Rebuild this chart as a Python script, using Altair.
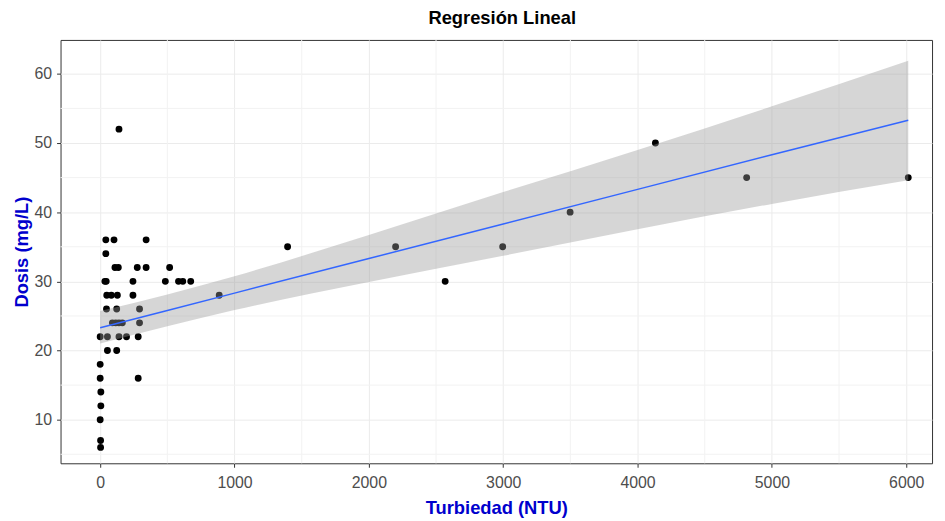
import altair as alt
import pandas as pd

# Observed points: turbidity (NTU) and dose (mg/L)
turbiedad = [140, 42, 103, 342, 42, 110, 135, 276, 342, 517,
             35, 45, 244, 485, 583, 615, 674,
             49, 83, 128, 244, 47, 123, 293,
             91, 116, 140, 165, 293,
             0, 54, 140, 196, 283, 54, 123,
             0, 0, 283, 5, 5, 0, 3, 3,
             886, 1395, 2199, 2568, 2996, 3498, 4133, 4812, 6015]
dosis = [52, 36, 36, 36, 34, 32, 32, 32, 32, 32,
         30, 30, 30, 30, 30, 30, 30,
         28, 28, 28, 28, 26, 26, 26,
         24, 24, 24, 24, 24,
         22, 22, 22, 22, 22, 20, 20,
         18, 16, 16, 14, 12, 10, 7, 6,
         28, 35, 35, 30, 35, 40, 50, 45, 45]

# Fitted line and 95% confidence band
fit_x = [0, 500, 1000, 2000, 3000, 4000, 5000, 6015]
fit_y = [23.3, 25.8, 28.3, 33.3, 38.3, 43.3, 48.3, 53.3]
band_lo = [21.0, 23.5, 25.85, 29.9, 33.7, 37.55, 41.2, 44.6]
band_hi = [25.7, 28.1, 30.75, 36.7, 42.9, 49.0, 55.3, 61.9]

x_ticks = [0, 1000, 2000, 3000, 4000, 5000, 6000]
y_ticks = [10, 20, 30, 40, 50, 60]
x_minor = [500, 1500, 2500, 3500, 4500, 5500]
y_minor = [5, 15, 25, 35, 45, 55]

pts = pd.DataFrame({"x": turbiedad, "y": dosis})
band = pd.DataFrame({"x": fit_x, "fit": fit_y, "lo": band_lo, "hi": band_hi})

xscale = alt.Scale(domain=[-295, 6192], nice=False, zero=False)
yscale = alt.Scale(domain=[3.7, 64.9], nice=False, zero=False)

blue = "#0000CD"
font = "Liberation Sans"
xaxis = alt.Axis(values=x_ticks, format="d", title="Turbiedad (NTU)", grid=True,
                 gridColor="#EBEBEB", gridWidth=1, domain=False, tickColor="#333333",
                 tickSize=4, labelFont=font, labelFontSize=16, labelColor="#4D4D4D",
                 labelPadding=7, titleFont=font, titleFontSize=18.5, titleFontWeight="bold",
                 titleColor=blue, titlePadding=9)
yaxis = alt.Axis(values=y_ticks, title="Dosis (mg/L)", grid=True, gridColor="#EBEBEB",
                 gridWidth=1, domain=False, tickColor="#333333", tickSize=4,
                 labelFont=font, labelFontSize=16, labelColor="#4D4D4D", labelPadding=5,
                 titleFont=font, titleFontSize=18.5, titleFontWeight="bold",
                 titleColor=blue, titlePadding=3)

xminor = alt.Chart(pd.DataFrame({"v": x_minor})).mark_rule(color="#F2F2F2", strokeWidth=1).encode(
    x=alt.X("v:Q", scale=xscale, axis=xaxis))
yminor = alt.Chart(pd.DataFrame({"v": y_minor})).mark_rule(color="#F2F2F2", strokeWidth=1).encode(
    y=alt.Y("v:Q", scale=yscale, axis=yaxis))

points = alt.Chart(pts).mark_circle(size=48, color="black", opacity=1).encode(
    x=alt.X("x:Q", scale=xscale, axis=xaxis),
    y=alt.Y("y:Q", scale=yscale, axis=yaxis))

ribbon = alt.Chart(band).mark_area(color="#999999", opacity=0.4, interpolate="monotone").encode(
    x=alt.X("x:Q", scale=xscale, axis=xaxis),
    y=alt.Y("lo:Q", scale=yscale, axis=yaxis),
    y2="hi:Q")

line = alt.Chart(band).mark_line(color="#3366FF", strokeWidth=1.5).encode(
    x=alt.X("x:Q", scale=xscale, axis=xaxis),
    y=alt.Y("fit:Q", scale=yscale, axis=yaxis))

chart = alt.layer(xminor, yminor, points, ribbon, line).properties(
    width=879, height=427,
    title=alt.TitleParams("Regresión Lineal", font=font, fontSize=18.5,
                          fontWeight="bold", color="black", anchor="middle", offset=12, dx=6),
    padding={"left": 53, "top": 30, "right": 5, "bottom": 56},
    autosize=alt.AutoSizeParams(type="none"),
).configure_view(stroke="#333333", strokeWidth=1)

chart.save("out.html", embed_options={"renderer": "svg", "actions": False})
